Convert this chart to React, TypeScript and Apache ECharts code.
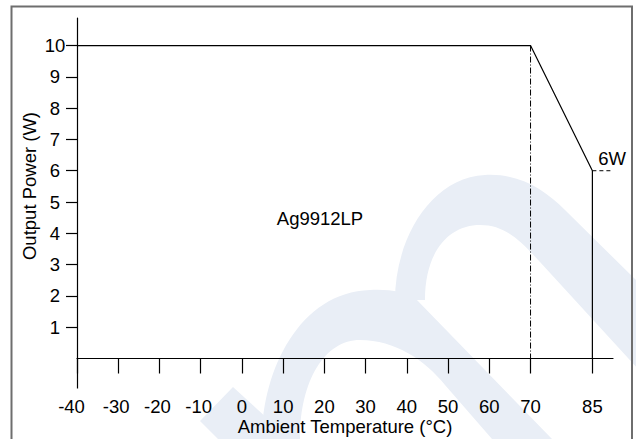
import React, { useEffect, useRef } from "react";
import * as echarts from "echarts";

// ---- data ----
const deratingTemps = [-40, 70, 85, 85];
const deratingPower = [10, 10, 6, 0];
const fullPowerLimitTemp = 70;
const fullPowerValue = 10;
const endPowerValue = 6;
const dashedEndTemp = 90;
const xTickValues = [-40, -30, -20, -10, 0, 10, 20, 30, 40, 50, 60, 70, 85];
const yTickValues = [1, 2, 3, 4, 5, 6, 7, 8, 9, 10];
const modelName = "Ag9912LP";
const endPowerLabel = "6W";
const xAxisTitle = "Ambient Temperature (°C)";
const yAxisTitle = "Output Power (W)";

const FONT = "'Liberation Sans', Arial, sans-serif";
const FS = 18.5;

const wmA =
  "M262,439 C262,370 300,292 370,290 C390,289 405,292 415,298 L552,439 L492,439 L445,385 C425,360 395,340 360,340 C325,340 300,380 300,439 Z";
const wmB =
  "M395,300 C395,240 430,178 485,175 C520,173 545,190 565,210 L640,284 L640,371 L540,262 C520,240 505,225 480,225 C450,225 425,250 425,300 Z";
const wmC = "M233,387 L200,421 L218,439 L290,439 Z";

let registered = false;
function registerShapes() {
  if (registered) return;
  registered = true;
  echarts.graphic.registerShape("wmA", echarts.graphic.extendPath(wmA, {}) as any);
  echarts.graphic.registerShape("wmB", echarts.graphic.extendPath(wmB, {}) as any);
  echarts.graphic.registerShape("wmC", echarts.graphic.extendPath(wmC, {}) as any);
}

export default function App() {
  const ref = useRef<HTMLDivElement>(null);
  useEffect(() => {
    if (!ref.current) return;
    registerShapes();
    const chart = echarts.init(ref.current, undefined, { renderer: "svg" });
    const mainLine = deratingTemps.map((t, i) => [t, deratingPower[i]]);
    const wmStyle = { fill: "#e9eef6" };
    const textStyle = (text: string) => ({
      text,
      fontFamily: FONT,
      fontSize: FS,
      fill: "#000",
      align: "center",
      verticalAlign: "middle",
    });
    chart.setOption({
      animation: false,
      backgroundColor: "#ffffff",
      grid: {
        left: 77,
        right: 23,
        top: 18,
        bottom: 80.5,
        containLabel: false,
        outerBoundsMode: "none",
      },
      xAxis: [
        {
          type: "value",
          position: "bottom",
          min: -40,
          max: 90,
          axisLine: { show: true, onZero: false, lineStyle: { color: "#000", width: 1.2 } },
          axisTick: {
            show: true,
            length: 15,
            customValues: xTickValues,
            lineStyle: { color: "#000", width: 1.2 },
          },
          axisLabel: {
            show: true,
            customValues: xTickValues,
            margin: 38,
            color: "#000",
            fontFamily: FONT,
            fontSize: FS,
            formatter: (v: number) =>
              v === xTickValues[0] ? `{first|${v}}` : v < 0 ? `{neg|${v}}` : String(v),
            rich: {
              first: { fontFamily: FONT, fontSize: FS, color: "#000", padding: [0, 11, 0, 0] },
              neg: { fontFamily: FONT, fontSize: FS, color: "#000", padding: [0, 4, 0, 0] },
            },
          },
          splitLine: { show: false },
        },
        {
          type: "value",
          position: "bottom",
          offset: 0,
          min: -40,
          max: 90,
          axisLine: { show: false, onZero: false },
          axisTick: {
            show: true,
            length: 30,
            customValues: [xTickValues[0]],
            lineStyle: { color: "#000", width: 1.2 },
          },
          axisLabel: { show: false },
          splitLine: { show: false },
        },
      ],
      yAxis: {
        type: "value",
        min: 0,
        max: 10.88,
        axisLine: { show: true, onZero: false, lineStyle: { color: "#000", width: 1.2 } },
        axisTick: {
          show: true,
          length: 11,
          customValues: yTickValues,
          lineStyle: { color: "#000", width: 1.2 },
        },
        axisLabel: {
          show: true,
          customValues: yTickValues,
          margin: 22,
          align: "center",
          color: "#000",
          fontFamily: FONT,
          fontSize: FS,
        },
        splitLine: { show: false },
      },
      graphic: [
        { type: "wmA", z: -10, x: 0, y: 0, scaleX: 1, scaleY: 1, style: wmStyle, silent: true },
        { type: "wmB", z: -10, x: 0, y: 0, scaleX: 1, scaleY: 1, style: wmStyle, silent: true },
        { type: "wmC", z: -10, x: 0, y: 0, scaleX: 1, scaleY: 1, style: wmStyle, silent: true },
        {
          type: "polyline",
          z: 10,
          shape: { points: [[11.5, 445], [11.5, 6.5], [632, 6.5], [632, 445]] },
          style: { stroke: "#6e6e6e", lineWidth: 2, fill: null },
          silent: true,
        },
        { type: "text", z: 10, x: 345, y: 426.5, style: textStyle(xAxisTitle) },
        { type: "text", z: 10, x: 29, y: 186, rotation: Math.PI / 2, style: textStyle(yAxisTitle) },
        { type: "text", z: 10, x: 320, y: 218, style: textStyle(modelName) },
        { type: "text", z: 10, x: 612, y: 158, style: textStyle(endPowerLabel) },
      ],
      series: [
        {
          type: "line",
          xAxisIndex: 0,
          data: mainLine,
          symbol: "none",
          lineStyle: { color: "#000", width: 1.2 },
          z: 3,
        },
        {
          type: "line",
          xAxisIndex: 0,
          data: [
            [fullPowerLimitTemp, fullPowerValue],
            [fullPowerLimitTemp, 0],
          ],
          symbol: "none",
          lineStyle: { color: "#000", width: 1, type: [6, 2, 1, 2] },
          z: 3,
        },
        {
          type: "line",
          xAxisIndex: 0,
          data: [
            [deratingTemps[2], endPowerValue],
            [dashedEndTemp, endPowerValue],
          ],
          symbol: "none",
          lineStyle: { color: "#000", width: 1, type: [4, 3] },
          z: 3,
        },
      ],
    });
    return () => chart.dispose();
  }, []);
  return (
    <div
      ref={ref}
      style={{ position: "fixed", left: 0, top: 0, width: 636, height: 439, background: "#fff" }}
    />
  );
}
